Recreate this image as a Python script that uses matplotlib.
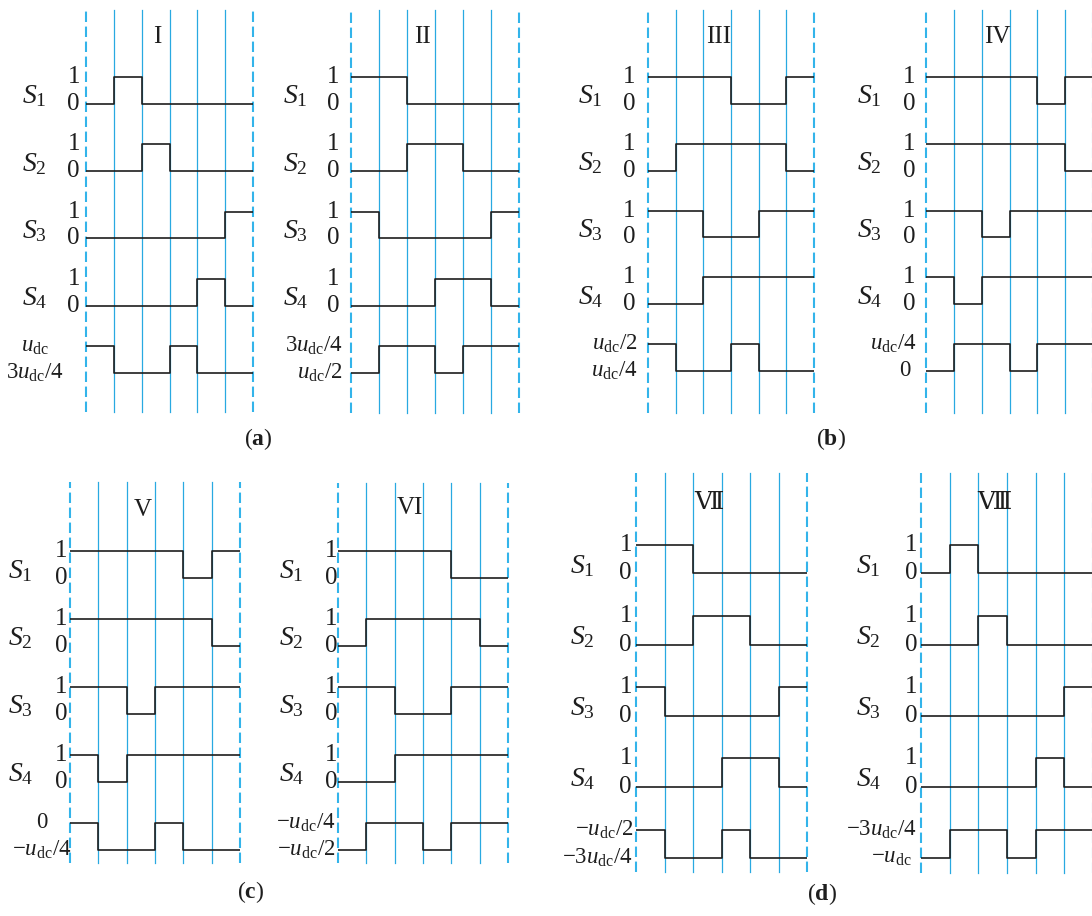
import numpy as np
import matplotlib
matplotlib.use("Agg")
import matplotlib.pyplot as plt
from fractions import Fraction

plt.rcParams["font.family"] = ["Liberation Serif", "DejaVu Serif", "Noto Sans CJK SC"]
plt.rcParams["mathtext.fontset"] = "custom"
plt.rcParams["mathtext.rm"] = "Liberation Serif"
plt.rcParams["mathtext.it"] = "Liberation Serif:italic"
plt.rcParams["mathtext.bf"] = "Liberation Serif:bold"

# ---- switching states over the six sub-intervals (rows: S1..S4) ----
titles = ["I", "II", "III", "IV", "V", "VI", "Ⅶ", "Ⅷ"]
switch_labels = ["S1", "S2", "S3", "S4"]

gates_I = [[0, 1, 0, 0, 0, 0], [0, 0, 1, 0, 0, 0], [0, 0, 0, 0, 0, 1], [0, 0, 0, 0, 1, 0]]
gates_II = [[1, 1, 0, 0, 0, 0], [0, 0, 1, 1, 0, 0], [1, 0, 0, 0, 0, 1], [0, 0, 0, 1, 1, 0]]
gates_III = [[1, 1, 1, 0, 0, 1], [0, 1, 1, 1, 1, 0], [1, 1, 0, 0, 1, 1], [0, 0, 1, 1, 1, 1]]
gates_IV = [[1, 1, 1, 1, 0, 1], [1, 1, 1, 1, 1, 0], [1, 1, 0, 1, 1, 1], [1, 0, 1, 1, 1, 1]]
gates_V = [[1, 1, 1, 1, 0, 1], [1, 1, 1, 1, 1, 0], [1, 1, 0, 1, 1, 1], [1, 0, 1, 1, 1, 1]]
gates_VI = [[1, 1, 1, 1, 0, 0], [0, 1, 1, 1, 1, 0], [1, 1, 0, 0, 1, 1], [0, 0, 1, 1, 1, 1]]
gates_VII = [[1, 1, 0, 0, 0, 0], [0, 0, 1, 1, 0, 0], [1, 0, 0, 0, 0, 1], [0, 0, 0, 1, 1, 0]]
gates_VIII = [[0, 1, 0, 0, 0, 0], [0, 0, 1, 0, 0, 0], [0, 0, 0, 0, 0, 1], [0, 0, 0, 0, 1, 0]]

# ---- output voltage in each sub-interval, as a fraction of u_dc ----
out_I = [1.0, 0.75, 0.75, 1.0, 0.75, 0.75]
out_II = [0.5, 0.75, 0.75, 0.5, 0.75, 0.75]
out_III = [0.5, 0.25, 0.25, 0.5, 0.25, 0.25]
out_IV = [0.0, 0.25, 0.25, 0.0, 0.25, 0.25]
out_V = [0.0, -0.25, -0.25, 0.0, -0.25, -0.25]
out_VI = [-0.5, -0.25, -0.25, -0.5, -0.25, -0.25]
out_VII = [-0.5, -0.75, -0.75, -0.5, -0.75, -0.75]
out_VIII = [-1.0, -0.75, -0.75, -1.0, -0.75, -0.75]

gates_all = [gates_I, gates_II, gates_III, gates_IV, gates_V, gates_VI, gates_VII, gates_VIII]
outs_all = [out_I, out_II, out_III, out_IV, out_V, out_VI, out_VII, out_VIII]
group_labels = ["a", "b", "c", "d"]

# ---- page layout in pixels ----
W, H = 1092, 916
layout = [
    dict(x0=86, x1=253, top=10, bot=412, yhi=77, ylo=373, dgap=6, sgap=64, oal="center", ogap=(51, 51), ty=37),
    dict(x0=351, x1=519, top=10, bot=413, yhi=77, ylo=373, dgap=12, sgap=68, oal="right", ogap=(8, 8), ty=37),
    dict(x0=648, x1=814, top=10, bot=413, yhi=77, ylo=371, dgap=13, sgap=70, oal="right", ogap=(10, 10), ty=37),
    dict(x0=926, x1=1093, top=10, bot=413, yhi=77, ylo=371, dgap=11, sgap=69, oal="right", ogap=(9, 15), ty=37),
    dict(x0=70, x1=240, top=482, bot=863, yhi=551, ylo=850, dgap=3, sgap=62, oal="center", ogap=(28, 28), ty=510),
    dict(x0=338, x1=508, top=483, bot=863, yhi=551, ylo=850, dgap=1, sgap=59, oal="right", ogap=(3, 3), ty=508),
    dict(x0=636, x1=807, top=473, bot=872, yhi=545, ylo=858, dgap=4, sgap=66, oal="right", ogap=(3, 3), ty=503),
    dict(x0=921, x1=1093, top=473, bot=873, yhi=545, ylo=858, dgap=4, sgap=65, oal="right", ogap=(4, 9), ty=503),
]
group_pos = [(258, 439), (831, 439), (251, 892), (822, 894)]

BLUE = "#29a9e1"
DASH_BLUE = "#33b4ea"
INK = "#1e1e1e"
FS = 18
FS_S = 20
ROW_STEP = 2.5
N_INT = 6


def level_label(v):
    f = Fraction(v).limit_denominator(4)
    if f == 0:
        return "0"
    sign = "-" if f < 0 else ""
    f = abs(f)
    num = "" if f.numerator == 1 else r"\mathrm{%d}" % f.numerator
    den = "" if f.denominator == 1 else r"\mathrm{/%d}" % f.denominator
    return r"$%s%su_\mathrm{dc}%s$" % (sign, num, den)


fig = plt.figure(figsize=(W / 100, H / 100), dpi=100)
edges = np.arange(N_INT + 1)

for title, gates, out, L in zip(titles, gates_all, outs_all, layout):
    ax = fig.add_axes([L["x0"] / W, 1 - L["bot"] / H,
                       (L["x1"] - L["x0"]) / W, (L["bot"] - L["top"]) / H])
    ax.axis("off")
    ax.set_xlim(0, N_INT)
    # vertical scale: data 1 -> S1 high level, data -10 -> output low level
    ppu = (L["ylo"] - L["yhi"]) / 11.0

    def px2y(py):
        return 1 - (py - L["yhi"]) / ppu

    ax.set_ylim(px2y(L["bot"]), px2y(L["top"]))
    ppx = (L["x1"] - L["x0"]) / N_INT

    # time-slot grid
    for x in edges:
        if x in (0, N_INT):
            ax.axvline(x, color=DASH_BLUE, lw=1.5, ls=(0, (5.0, 2.2)),
                       zorder=1, clip_on=False)
        else:
            ax.axvline(x, color=BLUE, lw=0.9, zorder=1, clip_on=False)

    # gate signals
    for k, (row, name) in enumerate(zip(gates, switch_labels)):
        base = -ROW_STEP * k
        vals = np.array(row + [row[-1]], dtype=float) + base
        ax.step(edges, vals, where="post", color=INK, lw=1.2, zorder=3)
        ax.text(-L["dgap"] / ppx, base + 1, "1", ha="right", va="center",
                fontsize=FS, color=INK, clip_on=False)
        ax.text(-L["dgap"] / ppx, base, "0", ha="right", va="center",
                fontsize=FS, color=INK, clip_on=False)
        ax.text(-L["sgap"] / ppx, base + 0.02, r"$S_\mathrm{%s}$" % name[1:],
                ha="left", va="baseline", fontsize=FS_S, color=INK, clip_on=False)

    # output voltage
    lo, hi = min(out), max(out)
    base = -ROW_STEP * 4
    yv = [base + (v - lo) / (hi - lo) for v in out]
    ax.step(edges, yv + [yv[-1]], where="post", color=INK, lw=1.2, zorder=3)
    for lev, yy, gap in ((hi, base + 1, L["ogap"][0]), (lo, base, L["ogap"][1])):
        ax.text(-gap / ppx, yy, level_label(lev), ha=L["oal"], va="center",
                fontsize=16.5, color=INK, clip_on=False)

    ax.text(2.55, px2y(L["ty"]), title, ha="center", va="center",
            fontsize=FS, color=INK)

for g, (gx, gy) in zip(group_labels, group_pos):
    fig.text(gx / W, 1 - gy / H, r"($\mathbf{%s}$)" % g, ha="center", va="center",
             fontsize=17, color=INK)

fig.savefig("out.png", dpi=100, facecolor="white")
